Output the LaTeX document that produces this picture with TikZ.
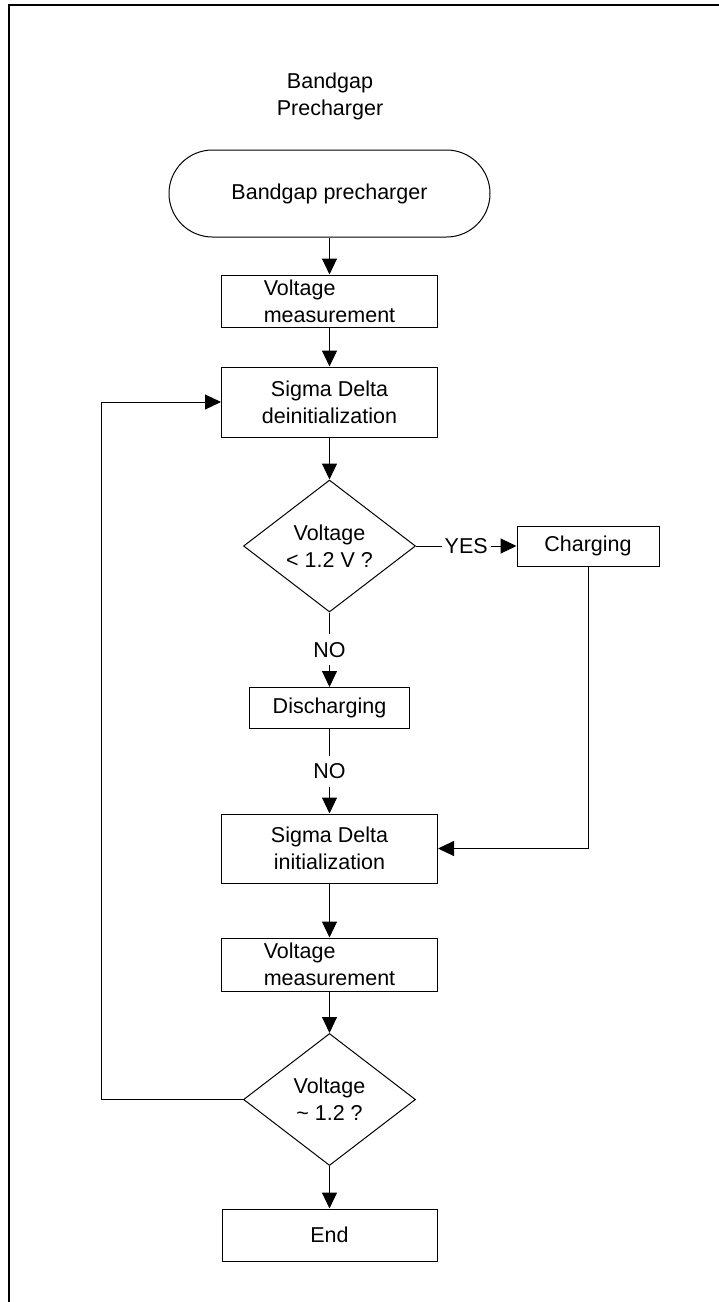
\documentclass[tikz,border=0pt]{standalone}
\usepackage{fontspec}
\setmainfont{Liberation Sans}
\usetikzlibrary{shapes.geometric,shapes.misc,arrows.meta}

\begin{document}
\begin{tikzpicture}[x=1pt, y=-1pt, line width=1pt,
    every node/.style={font=\fontsize{21.5}{27}\selectfont, inner sep=0pt},
    box/.style={rectangle, draw, align=center, minimum width=216pt, minimum height=52pt},
    term/.style={rounded rectangle, draw, minimum width=321pt, minimum height=87pt},
    decide/.style={diamond, draw, align=center, minimum width=172pt, minimum height=132pt},
    lbl/.style={fill=white, inner xsep=3pt, inner ysep=8pt},
    flow/.style={-{Triangle[length=16pt,width=15pt]}}]
      \useasboundingbox (0,0) rectangle (719,1302);
      \draw[line width=1.6pt] (9,1302) -- (9,5) -- (719,5);
      \node (title) at (330,96) [align=center] {Bandgap\\Precharger};
      \node (start) at (329.5,193.5) [term] {Bandgap precharger};
      \node (meas1) at (329.5,301) [box, align=left] {Voltage\\measurement};
      \node (deinit) at (329.5,402) [box, minimum height=70pt] {Sigma Delta\\deinitialization};
      \node (cmp1) at (329.5,546) [decide] {Voltage\\< 1.2 V ?};
      \node (charge) at (588,546) [box, minimum width=142pt, minimum height=40pt] {Charging};
      \node (discharge) at (329.5,708) [box, minimum width=160pt, minimum height=41pt] {Discharging};
      \node (init) at (329.5,848.5) [box, minimum height=69pt] {Sigma Delta\\initialization};
      \node (meas2) at (329.5,964.5) [box, align=left, minimum height=53pt] {Voltage\\measurement};
      \node (cmp2) at (329.5,1099.5) [decide] {Voltage\\\textasciitilde{} 1.2 ?};
      \node (stop) at (329.5,1235) [box, minimum width=215pt] {End};
      \coordinate (back) at (101,1099.5);
      \foreach \source/\dest in {start/meas1, meas1/deinit, deinit/cmp1, init/meas2, meas2/cmp2, cmp2/stop}
        \path (\source) edge[flow] (\dest);
      \path (cmp1) edge[flow] node[lbl] {YES} (charge);
      \path (cmp1) edge[flow] node[lbl] {NO} (discharge);
      \path (discharge) edge[flow] node[lbl] {NO} (init);
      \draw[flow] (charge) |- (init);
      \draw[flow] (cmp2) -- (back) |- (deinit);
    \end{tikzpicture}
\end{document}
